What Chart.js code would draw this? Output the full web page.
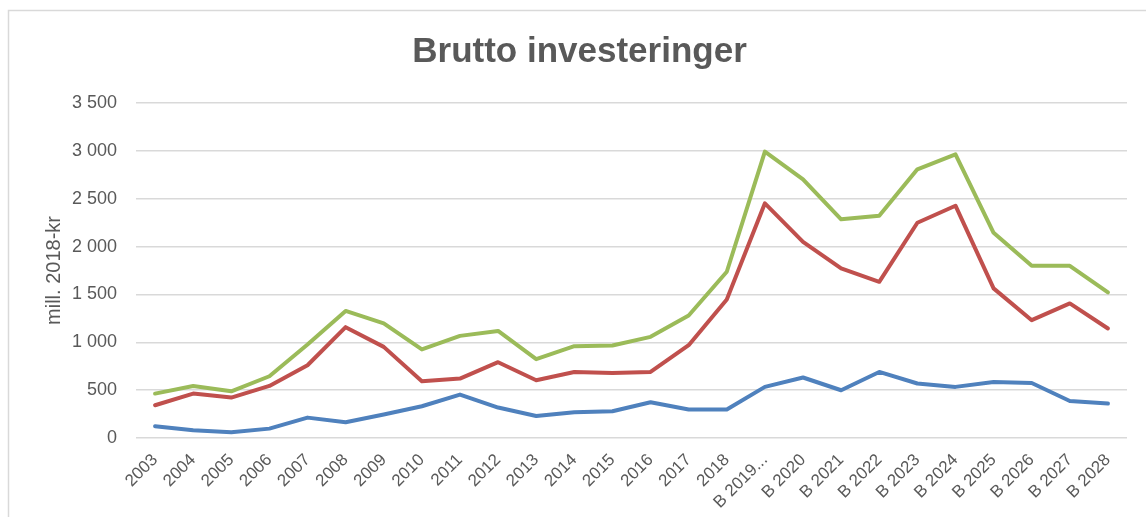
<!DOCTYPE html>
<html>
<head>
<meta charset="utf-8">
<script src="https://cdn.jsdelivr.net/npm/chart.js@4/dist/chart.umd.min.js"></script>
<style>
  html, body { margin: 0; padding: 0; background: #ffffff; }
  #wrap { width: 1146px; height: 517px; position: relative; }
</style>
</head>
<body>
<div id="wrap"><canvas id="c" width="1146" height="517"></canvas></div>
<script>
const categories = ["2003","2004","2005","2006","2007","2008","2009","2010","2011","2012","2013","2014","2015","2016","2017","2018","B 2019...","B 2020","B 2021","B 2022","B 2023","B 2024","B 2025","B 2026","B 2027","B 2028"];
const blueSeries  = [122, 80, 60, 98, 213, 164, 245, 332, 454, 318, 230, 269, 279, 373, 297, 297, 534, 632, 499, 690, 569, 534, 586, 575, 387, 360];
const redSeries   = [342, 464, 422, 544, 760, 1158, 952, 593, 621, 792, 604, 690, 680, 690, 970, 1448, 2452, 2050, 1772, 1632, 2249, 2427, 1563, 1231, 1406, 1144];
const greenSeries = [464, 544, 488, 645, 977, 1328, 1197, 925, 1067, 1119, 823, 959, 966, 1057, 1280, 1737, 2992, 2703, 2285, 2322, 2807, 2964, 2144, 1799, 1799, 1521];
const yMin = 0, yMax = 3500, yStep = 500;
const titleText = "Brutto investeringer";
const yAxisTitle = "mill. 2018-kr";

function fmt(v) { return String(v).replace(/\B(?=(\d{3})+(?!\d))/g, ' '); }

const borderPlugin = {
  id: 'frame',
  beforeDraw(chart) {
    const ctx = chart.ctx;
    ctx.save();
    ctx.fillStyle = '#ffffff';
    ctx.fillRect(0, 0, chart.width, chart.height);
    ctx.strokeStyle = '#D9D9D9';
    ctx.lineWidth = 1.5;
    ctx.beginPath();
    ctx.moveTo(8.5, chart.height + 2);
    ctx.lineTo(8.5, 10.5);
    ctx.lineTo(chart.width + 2, 10.5);
    ctx.stroke();
    ctx.restore();
  }
};

const gray = '#595959';
const fontFam = '"Liberation Sans", Arial, sans-serif';

new Chart(document.getElementById('c'), {
  type: 'line',
  data: {
    labels: categories,
    datasets: [
      { label: 'Blue', data: blueSeries, borderColor: '#4F81BD', backgroundColor: '#4F81BD' },
      { label: 'Red', data: redSeries, borderColor: '#C0504D', backgroundColor: '#C0504D' },
      { label: 'Green', data: greenSeries, borderColor: '#9BBB59', backgroundColor: '#9BBB59' }
    ]
  },
  options: {
    responsive: false,
    animation: false,
    devicePixelRatio: 1,
    layout: { padding: { left: 32, right: 19, top: 0, bottom: 0 } },
    elements: {
      line: { tension: 0, borderWidth: 4, borderCapStyle: 'round', borderJoinStyle: 'round', fill: false },
      point: { radius: 0, hoverRadius: 0 }
    },
    plugins: {
      legend: { display: false },
      tooltip: { enabled: false },
      title: {
        display: true,
        text: titleText,
        color: gray,
        font: { family: fontFam, size: 35, weight: 'bold', lineHeight: 1.2 },
        padding: { top: 31, bottom: 30 }
      }
    },
    scales: {
      x: {
        type: 'category',
        offset: true,
        grid: { display: false, drawTicks: false },
        border: { display: false },
        ticks: {
          color: gray,
          font: { family: fontFam, size: 17 },
          maxRotation: 45, minRotation: 45,
          autoSkip: false,
          padding: 12
        },
        afterFit(s) { s.height = 79; }
      },
      y: {
        min: yMin, max: yMax,
        grid: { color: '#D9D9D9', lineWidth: 1.5, drawTicks: false },
        border: { display: false },
        ticks: {
          stepSize: yStep,
          color: gray,
          font: { family: fontFam, size: 18 },
          padding: 19,
          callback: (v) => fmt(v)
        },
        title: {
          display: true,
          text: yAxisTitle,
          color: gray,
          font: { family: fontFam, size: 20 },
          padding: { top: 10, bottom: 0 }
        },
        afterFit(s) { s.width = 104; }
      }
    }
  },
  plugins: [borderPlugin]
});
</script>
</body>
</html>
